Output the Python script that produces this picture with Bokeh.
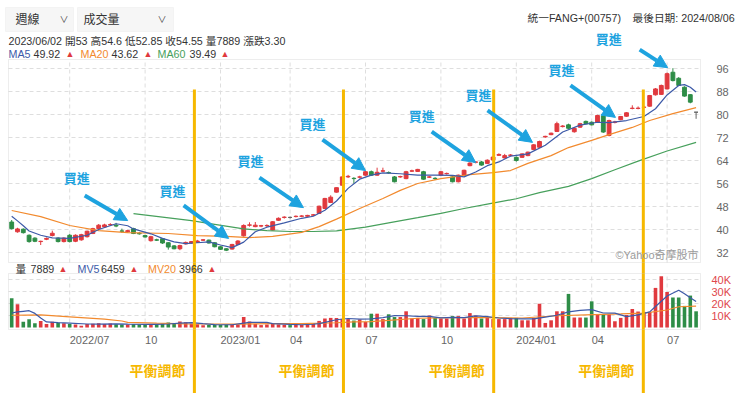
from bokeh.plotting import figure
from bokeh.models import (Range1d, Label, Arrow, NormalHead, ColumnDataSource, BoxAnnotation)
from bokeh.core.properties import value
from bokeh.embed import file_html
from bokeh.resources import INLINE

# ---------------- data (weekly candles) ----------------
opens = [42.6,39.2,40.1,38.0,37.0,35.8,36.6,37.9,37.0,35.8,
         38.0,35.9,36.4,37.5,38.6,40.3,40.9,41.6,41.5,39.5,
         39.2,40.3,38.7,37.9,36.1,36.4,36.8,35.4,34.3,33.3,
         35.0,35.3,35.6,36.3,36.3,35.4,34.0,33.3,33.2,34.8,
         37.8,41.5,41.0,41.2,41.3,39.8,43.2,44.2,44.2,44.5,
         44.6,44.6,45.0,45.6,47.3,49.4,53.0,55.4,58.3,57.8,
         58.2,58.9,60.1,58.9,60.3,59.8,58.3,58.3,57.7,60.3,
         60.2,60.1,58.2,57.8,58.9,59.4,58.3,56.6,58.9,62.2,
         63.4,63.5,63.0,64.2,65.8,64.9,65.8,65.1,65.1,65.7,
         67.8,68.6,72.2,73.0,74.1,75.8,76.4,74.0,75.6,77.6,
         77.3,77.3,79.6,72.7,77.3,78.2,79.4,82.1,82.1,82.5,
         82.9,86.85,87.0,88.9,94.7,92.6,89.5,86.9,80.8]
highs = [43.3,40.6,40.4,38.3,37.3,36.1,37.2,39.6,37.3,37.3,
         38.4,38.3,38.5,39.6,40.6,41.9,42.0,42.2,42.3,40.3,
         39.9,40.6,39.1,38.2,37.8,36.8,37.0,35.6,34.6,34.7,
         35.8,36.0,36.4,36.7,36.5,35.6,34.2,33.5,35.0,36.3,
         41.8,42.5,42.6,41.6,41.8,42.9,44.2,44.6,44.5,44.9,
         45.0,45.1,45.4,48.3,51.0,51.9,54.6,58.6,59.0,58.2,
         58.7,60.4,60.5,61.5,61.5,60.2,58.6,58.7,60.4,60.8,
         61.1,60.4,58.6,58.2,60.3,59.8,58.6,59.1,60.8,63.4,
         63.8,63.8,64.4,65.4,66.5,66.3,66.2,65.4,66.5,67.1,
         69.7,70.9,72.6,73.7,77.5,76.3,76.8,75.5,77.1,77.9,
         77.6,79.9,80.0,78.2,77.8,79.5,80.8,83.2,82.8,83.0,
         86.8,89.2,90.4,94.6,96.1,93.0,89.8,87.1,80.8]
lows = [40.0,38.9,38.6,35.4,35.6,34.6,36.3,37.6,35.5,35.5,
        35.5,35.6,36.1,37.2,38.4,40.0,40.6,41.2,40.8,38.8,
        39.0,38.4,38.2,37.2,35.8,36.0,35.0,33.0,33.1,32.8,
        34.8,35.1,35.3,36.0,35.1,33.8,32.9,32.5,33.0,34.6,
        37.5,41.0,40.8,40.8,40.9,39.6,43.0,43.8,43.8,44.2,
        44.3,44.4,44.7,45.4,47.1,49.2,52.85,55.2,57.9,56.0,
        57.8,58.7,58.6,58.7,60.0,59.4,56.4,58.0,57.5,60.0,
        60.0,57.3,57.9,57.2,58.7,59.1,56.4,56.4,58.7,62.0,
        63.0,62.2,62.8,64.0,65.6,64.7,65.5,63.6,64.9,65.5,
        67.6,68.4,71.9,72.8,73.9,75.5,75.0,73.7,75.4,76.6,
        76.2,77.1,73.6,72.4,76.9,78.0,79.2,81.8,81.8,82.2,
        82.7,86.6,86.8,88.7,91.5,89.9,86.2,83.9,78.5]
closes = [40.3,40.2,38.9,35.8,35.9,35.9,36.9,38.7,35.8,37.0,
          35.8,38.0,38.2,39.4,40.3,41.5,41.6,41.7,41.2,39.4,
          39.6,38.6,38.5,37.4,37.5,36.3,35.3,33.9,33.3,34.4,
          35.5,35.8,36.0,36.4,35.3,34.0,33.1,32.8,34.8,36.0,
          41.4,41.6,41.5,41.3,41.4,42.7,43.9,44.3,44.2,44.6,
          44.7,44.9,45.1,48.1,50.8,51.25,54.55,58.3,58.5,57.7,
          58.3,60.1,58.9,59.9,60.4,59.7,56.6,58.4,60.1,60.4,
          60.9,57.5,58.3,57.7,60.1,59.5,56.6,58.9,60.6,63.1,
          63.5,62.4,64.1,65.2,66.1,65.7,65.9,64.0,66.3,66.9,
          69.45,70.6,72.4,73.5,76.8,76.0,75.2,75.2,76.8,76.8,
          76.4,79.65,73.9,77.9,77.4,79.3,80.6,82.2,82.2,82.55,
          86.6,88.9,90.1,94.2,91.8,90.1,86.4,84.3,80.8]
volumes = [24300,19300,4800,6800,3500,5400,2900,4800,4000,3500,
           3000,2500,1500,3000,3200,3600,3000,3400,2800,2500,
           2400,3000,2400,2000,3000,2300,3200,4200,3600,5000,
           4300,3200,2800,1800,2000,2200,2000,2300,2600,2400,
           8800,4900,3000,2000,2500,3600,2600,2200,2000,2400,
           2300,2700,3500,5500,7500,8000,7889,7200,7000,5800,
           6700,4600,11500,11500,7000,11000,8700,8700,13500,7500,
           8000,7000,10000,8000,7500,7500,9500,9500,7500,12000,
           10000,7500,8000,7000,7000,7000,8000,8000,6000,6000,
           8000,19800,3800,6000,13500,13500,28000,8300,8300,8300,
           21800,11000,11000,11000,5200,8000,10400,15400,13300,13000,
           13000,33000,42700,29600,25000,25000,18000,26600,13500]

# moving-average lines (week index, value)
ma5_week = [0,1,2,3,5,7,10,13,15,18,20,21,24,26,28,30,32,34,36,38,40,42,44,47,50,52,54,56,
            58,60,62,64,67,70,73,76,78,80,82,84,86,89,92,95,98,101,103,106,109,111,113,115,116,117,118]
ma5_val = [44.6,43.0,41.3,39.5,38.0,37.1,36.9,38.0,40.0,42.0,41.3,40.2,38.5,36.9,35.7,35.1,35.4,35.7,
           34.6,33.7,35.6,39.2,40.8,42.3,43.9,44.6,46.7,49.92,54.3,57.5,58.9,59.7,59.4,58.9,58.9,58.8,
           58.3,60.0,62.2,63.5,65.5,66.3,69.3,73.9,76.3,77.3,77.2,77.9,79.3,82.0,86.8,90.1,90.4,89.5,87.8]
ma20_week = [0,5,10,15,20,27,32,37,41,45,50,53,56,60,64,67,70,74,79,83,86,89,93,96,100,103,107,110,114,118]
ma20_val = [46.6,44.5,41.4,39.6,38.9,38.6,37.9,37.6,37.2,37.6,39.0,41.0,43.62,47.3,50.8,53.6,56.0,57.7,
            59.1,59.8,60.5,63.0,65.7,68.5,71.0,73.0,75.5,77.9,80.3,82.4]
ma60_week = [21,26,31,35,40,44,48,52,56,61,65,70,74,78,82,87,91,96,100,104,108,113,118]
ma60_val = [45.5,44.3,43.1,41.8,40.2,39.6,39.3,39.3,39.49,40.8,42.3,44.1,45.6,47.3,48.8,50.7,52.8,
            55.0,57.7,60.8,63.8,67.3,70.3]
mv5_week = [0,1,2,3,4,5,6,8,10,13,15,18,20,23,25,27,29,31,33,35,38,40,41,44,45,48,50,52,53,54,55,56,58,
            60,62,64,66,68,70,72,74,76,78,80,82,84,86,88,90,92,94,96,98,100,102,104,106,108,110,111,
            113,115,116,117,118]
mv5_val = [12100,13000,13500,14000,11740,7960,4680,4120,3640,2900,2760,3100,2820,2600,2540,2900,3660,
           4060,3200,2400,2300,3620,4240,4240,3200,2600,2300,2700,3280,4300,5440,6459,7518,
           6918,7120,8260,9940,9780,9280,9200,8100,8500,8300,9700,9000,7900,7400,7200,7200,8720,10220,
           12960,14320,14940,12080,12000,9120,10460,13020,17540,26260,31060,28060,24840,21620]
mv20_week = [0,5,10,16,19,20,25,30,35,39,42,45,50,53,56,59,62,65,70,76,82,88,94,99,105,109,113,115,118]
mv20_val = [10200,10600,8900,6900,5400,4300,3600,3050,2900,2850,3100,3300,3300,3600,3966,4700,4900,
            5900,7690,8300,8300,7900,9800,10600,11300,12000,14600,17300,17740]

tick_week = [10, 23, 36, 48, 61, 74, 87, 100, 113]
tick_labels = ["2022/07", "10", "2023/01", "04", "07", "10", "2024/01", "04", "07"]
price_ticks = [32, 40, 48, 56, 64, 72, 80, 88, 96]
price_tick_labels = [str(t) for t in price_ticks]
vol_ticks = [10000, 20000, 30000, 40000]
vol_tick_labels = ["10K", "20K", "30K", "40K"]

# annotations: buy arrows (tip at week/price), rebalance lines (week position)
buy_week = [20.0, 37.4, 50.3, 61.0, 80.0, 89.8, 104.1, 113.1]
buy_price = [43.1, 36.9, 47.6, 60.5, 63.3, 70.3, 79.0, 96.3]
rebalance_week = [31.5, 57.2, 83.1, 108.9]

# ---------------- layout helpers (page pixels -> data) ----------------
W, H = 740, 393
X0, DX = 11.2, 5.8            # px of week 0, px per week
PPX = 2.875                   # px per price unit
def xi(px): return (px - X0) / DX
def yp(py): return 96 - (py - 68) / PPX
def yv(py): return (327 - py) * 10000 / 12

RED, GREEN, GRAY = "#e0393e", "#2e8d47", "#666666"
BLUE_MA, ORANGE_MA, GREEN_MA = "#3d5aa8", "#f28a2e", "#47a05c"
YELLOW, SKY = "#f6b800", "#1ea3df"
GRID, BORDER = "#dedede", "#c4c4c4"
FONT = "Liberation Sans, Noto Sans CJK TC"
CJK = "Noto Sans CJK TC"

n = len(closes)
idx = list(range(n))
ccol, vcol = [], []
for k in range(n):
    if closes[k] > opens[k]:
        c = RED
    elif closes[k] < opens[k]:
        c = GREEN
    else:
        c = GRAY
    ccol.append(c)
    if c == GRAY:
        c = RED if k > 0 and closes[k] >= closes[k - 1] else GREEN
    vcol.append(c)

src = ColumnDataSource(dict(i=idx, o=opens, h=highs, l=lows, c=closes,
                            top=[max(a, b) for a, b in zip(opens, closes)],
                            bot=[min(a, b) for a, b in zip(opens, closes)],
                            col=ccol))
vsrc = ColumnDataSource(dict(i=idx, v=volumes, col=vcol))

# one figure whose frame is the whole page; price on the main y range, volume on "vol"
p = figure(width=W, height=H, x_range=Range1d(xi(0), xi(W)), y_range=Range1d(yp(H), yp(0)),
           output_backend="svg", toolbar_location=None, title=None,
           x_axis_location=None, y_axis_location=None,
           min_border_left=0, min_border_right=0, min_border_top=0, min_border_bottom=0)
p.extra_y_ranges = {"vol": Range1d(yv(H), yv(0))}
p.outline_line_color = None
p.xgrid.visible = False
p.ygrid.visible = False
p.background_fill_color = "white"
p.border_fill_color = "white"

# ---- grid lines (dashed) inside the two panels ----
nt = len(tick_week)
p.segment(x0=[xi(8)] * len(price_ticks), x1=[xi(700)] * len(price_ticks), y0=price_ticks, y1=price_ticks,
          line_color=GRID, line_dash="4 3")
p.segment(x0=tick_week, x1=tick_week, y0=[yp(262)] * nt, y1=[yp(59)] * nt,
          line_color=GRID, line_dash="4 3")
p.segment(x0=[xi(8)] * len(vol_ticks), x1=[xi(700)] * len(vol_ticks), y0=vol_ticks, y1=vol_ticks,
          line_color=GRID, line_dash="4 3", y_range_name="vol")
p.segment(x0=tick_week, x1=tick_week, y0=[yp(329)] * nt, y1=[yp(273)] * nt,
          line_color=GRID, line_dash="4 3")

# ---- panel borders ----
p.add_layout(BoxAnnotation(left=xi(8), right=xi(700), top=yp(59), bottom=yp(262),
                           fill_color=None, line_color=BORDER, line_width=1))
p.add_layout(BoxAnnotation(left=xi(8), right=xi(700), top=yp(273), bottom=yp(329),
                           fill_color=None, line_color=BORDER, line_width=1))

# ---- candles and moving averages ----
p.segment("i", "l", "i", "h", color="col", source=src, line_width=1)
p.vbar(x="i", width=0.66, top="top", bottom="bot", fill_color="col", line_color="col", source=src)
p.line(ma60_week, ma60_val, color=GREEN_MA, line_width=1.2)
p.line(ma20_week, ma20_val, color=ORANGE_MA, line_width=1.2)
p.line(ma5_week, ma5_val, color=BLUE_MA, line_width=1.2)

# ---- volume ----
p.vbar(x="i", width=0.62, top="v", bottom=0, fill_color="col", line_color=None, source=vsrc,
       y_range_name="vol")
p.line(mv20_week, mv20_val, color=ORANGE_MA, line_width=1.2, y_range_name="vol")
p.line(mv5_week, mv5_val, color=BLUE_MA, line_width=1.2, y_range_name="vol")

# ---- axis tick labels ----
p.text(x=[xi(716)] * len(price_ticks), y=price_ticks, text=price_tick_labels,
       text_align="left", text_baseline="middle", text_color="#666666",
       text_font_size="11px", text_font=value("Liberation Sans"))
p.text(x=[xi(711)] * len(vol_ticks), y=vol_ticks, text=vol_tick_labels, y_range_name="vol",
       text_align="left", text_baseline="middle", text_color="#e0474c",
       text_font_size="11px", text_font=value("Liberation Sans"))
p.text(x=tick_week, y=[yp(339)] * nt, text=tick_labels, text_align="left", text_baseline="middle",
       text_color="#666666", text_font_size="11px", text_font=value("Liberation Sans"))

# ---- rebalance lines and labels ----
p.segment(x0=rebalance_week, x1=rebalance_week, y0=[yp(89)] * 4, y1=[yp(H + 5)] * 4,
          line_color=YELLOW, line_width=3)
p.text(x=rebalance_week, y=[yp(369)] * 4, text=["平衡調節"] * 4, x_offset=-37,
       text_align="center", text_baseline="middle", text_color=YELLOW,
       text_font_size="14px", text_font_style="bold", text_font=value(CJK))

# ---- buy arrows ----
tail_dx = [43, 45, 44, 43, 44, 45, 45, 28]
tail_dy = [25, 33, 30, 31, 31, 32, 32, 18]
lab_dx = [-8, -11, -9, -10, -10, -9, -9, -31]
lab_dy = [-18, -15, -17, -16, -16, -16, -16, -11]
for k in range(len(buy_week)):
    tx = buy_week[k] - tail_dx[k] / DX
    ty = buy_price[k] + tail_dy[k] / PPX
    p.add_layout(Arrow(x_start=tx, y_start=ty, x_end=buy_week[k], y_end=buy_price[k],
                       line_color=SKY, line_width=4,
                       end=NormalHead(size=13, fill_color=SKY, line_color=SKY)))
    p.add_layout(Label(x=tx + lab_dx[k] / DX, y=ty - lab_dy[k] / PPX, text="買進",
                       text_align="center", text_baseline="middle", text_color=SKY,
                       text_font_size="13px", text_font_style="bold", text_font=CJK))

p.add_layout(Label(x=xi(698), y=yp(254), text="©Yahoo奇摩股市", text_align="right",
                   text_baseline="middle", text_color="#9a9a9a", text_font_size="11px",
                   text_font=FONT))

# ---- header: dropdowns and info lines ----
for lft, rgt in [(5, 73), (77, 173)]:
    p.add_layout(BoxAnnotation(left=xi(lft), right=xi(rgt), top=yp(7), bottom=yp(31),
                               fill_color="#f6f6f6", fill_alpha=1, line_color="#e4e4e4",
                               line_width=1))
hdr = [("週線", 15, 19, "#333333", "12px"), ("∨", 59, 19, "#444444", "9px"),
       ("成交量", 83, 19, "#333333", "12px"), ("∨", 157, 19, "#444444", "9px"),
       ("統一FANG+(00757)", 527, 17, "#333333", "10.7px"),
       ("最後日期: 2024/08/06", 632, 17, "#333333", "10.7px"),
       ("2023/06/02 開53 高54.6 低52.85 收54.55 量7889 漲跌3.30", 8, 40, "#333333", "10.7px"),
       ("MA5", 8, 53, BLUE_MA, "10.7px"), ("49.92", 33, 53, "#333333", "10.7px"),
       ("▲", 65, 53, RED, "9px"),
       ("MA20", 80, 53, ORANGE_MA, "10.7px"), ("43.62", 111, 53, "#333333", "10.7px"),
       ("▲", 143, 53, RED, "9px"),
       ("MA60", 157, 53, GREEN_MA, "10.7px"), ("39.49", 189, 53, "#333333", "10.7px"),
       ("▲", 220, 53, RED, "9px"),
       ("量", 15, 268, "#333333", "10.7px"), ("7889", 30, 268, "#333333", "10.7px"),
       ("▲", 58, 268, RED, "9px"), ("MV5", 77, 268, BLUE_MA, "10.7px"),
       ("6459", 100.5, 268, "#333333", "10.7px"), ("▲", 129, 268, RED, "9px"),
       ("MV20", 147.5, 268, ORANGE_MA, "10.7px"), ("3966", 178.5, 268, "#333333", "10.7px"),
       ("▲", 207, 268, RED, "9px")]
for t, x, y, c, s in hdr:
    p.add_layout(Label(x=xi(x), y=yp(y), text=t, text_color=c, text_font_size=s,
                       text_baseline="middle", text_font=FONT))

open("out.html", "w").write(file_html(p, INLINE))
